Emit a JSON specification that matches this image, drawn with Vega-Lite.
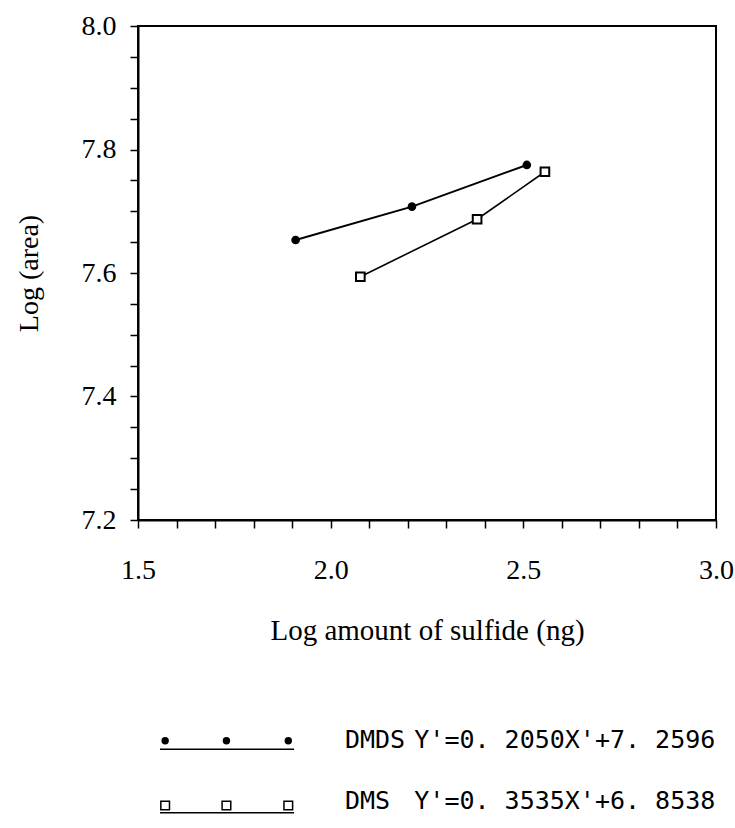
{
  "$schema": "https://vega.github.io/schema/vega-lite/v6.json",
  "background": "white",
  "padding": {"left": 14, "top": 11, "right": 5, "bottom": 0},
  "spacing": 57,
  "config": {
    "font": "Liberation Serif",
    "view": {"stroke": null},
    "axis": {
      "domainColor": "black", "domainWidth": 2, "tickColor": "black", "tickWidth": 1.5,
      "grid": false, "labelColor": "black", "titleColor": "black",
      "labelFont": "Liberation Serif", "titleFont": "Liberation Serif",
      "titleFontWeight": "normal", "labelOverlap": false, "labelFlush": false, "labelBound": false
    }
  },
  "vconcat": [
    {
      "width": 578,
      "height": 494,
      "view": {"stroke": "black", "strokeWidth": 2},
      "data": {"values": [
        {"series": "DMDS", "x": 1.909, "y": 7.6535},
        {"series": "DMDS", "x": 2.211, "y": 7.7075},
        {"series": "DMDS", "x": 2.509, "y": 7.775},
        {"series": "DMS", "x": 2.077, "y": 7.594},
        {"series": "DMS", "x": 2.380, "y": 7.687},
        {"series": "DMS", "x": 2.556, "y": 7.764}
      ]},
      "encoding": {
        "x": {"field": "x", "type": "quantitative",
          "scale": {"domain": [1.5, 3.0], "nice": false, "zero": false},
          "axis": {"title": "Log amount of sulfide (ng)", "titleFont": "Liberation Serif", "titleFontSize": 29, "titlePadding": 32,
            "labelFont": "Liberation Serif", "labelFontSize": 28, "labelPadding": 28, "tickSize": 8,
            "values": [1.5,1.6,1.7,1.8,1.9,2.0,2.1,2.2,2.3,2.4,2.5,2.6,2.7,2.8,2.9,3.0],
            "labelExpr": "abs(datum.value*2 - round(datum.value*2)) < 0.001 ? format(datum.value, '.1f') : ''"}},
        "y": {"field": "y", "type": "quantitative",
          "scale": {"domain": [7.2, 8.0], "nice": false, "zero": false},
          "axis": {"title": "Log (area)", "titleFont": "Liberation Serif", "titleFontSize": 28, "titlePadding": 38,
            "labelFont": "Liberation Serif", "labelFontSize": 28, "labelPadding": 14, "tickSize": 8,
            "values": [7.2,7.25,7.3,7.35,7.4,7.45,7.5,7.55,7.6,7.65,7.7,7.75,7.8,7.85,7.9,7.95,8.0],
            "labelExpr": "abs(datum.value*5 - round(datum.value*5)) < 0.001 ? format(datum.value, '.1f') : ''"}}
      },
      "layer": [
        {"transform": [{"filter": "datum.series == 'DMDS'"}],
         "mark": {"type": "line", "color": "black", "strokeWidth": 2}},
        {"transform": [{"filter": "datum.series == 'DMS'"}],
         "mark": {"type": "line", "color": "black", "strokeWidth": 1.6}},
        {"transform": [{"filter": "datum.series == 'DMDS'"}],
         "mark": {"type": "point", "shape": "circle", "filled": true, "color": "black", "size": 75, "opacity": 1}},
        {"transform": [{"filter": "datum.series == 'DMS'"}],
         "mark": {"type": "point", "shape": "square", "filled": true, "fill": "white", "stroke": "black", "strokeWidth": 2, "size": 75, "opacity": 1}}
      ]
    },
    {
      "width": 578,
      "height": 122,
      "view": {"stroke": null},
      "layer": [
        {
          "data": {"values": [
            {"series": "DMDS", "row": 1.16, "x0": 0.38, "x1": 2.70},
            {"series": "DMS", "row": 2.2, "x0": 0.38, "x1": 2.70}
          ]},
          "mark": {"type": "rule", "color": "black", "strokeWidth": 1.5},
          "encoding": {
            "x": {"field": "x0", "type": "quantitative", "scale": {"domain": [0, 10]}, "axis": null},
            "x2": {"field": "x1"},
            "y": {"field": "row", "type": "quantitative", "scale": {"domain": [0.4, 2.4], "reverse": true}, "axis": null}
          }
        },
        {
          "data": {"values": [
            {"series": "DMDS", "row": 1.02, "x": 0.47},
            {"series": "DMDS", "row": 1.02, "x": 1.53},
            {"series": "DMDS", "row": 1.02, "x": 2.60}
          ]},
          "mark": {"type": "point", "shape": "circle", "filled": true, "color": "black", "size": 55, "opacity": 1},
          "encoding": {
            "x": {"field": "x", "type": "quantitative", "scale": {"domain": [0, 10]}, "axis": null},
            "y": {"field": "row", "type": "quantitative", "scale": {"domain": [0.4, 2.4], "reverse": true}, "axis": null}
          }
        },
        {
          "data": {"values": [
            {"series": "DMS", "row": 2.08, "x": 0.47},
            {"series": "DMS", "row": 2.08, "x": 1.53},
            {"series": "DMS", "row": 2.08, "x": 2.60}
          ]},
          "mark": {"type": "point", "shape": "square", "filled": true, "fill": "white", "stroke": "black", "strokeWidth": 1.5, "size": 75, "opacity": 1},
          "encoding": {
            "x": {"field": "x", "type": "quantitative", "scale": {"domain": [0, 10]}, "axis": null},
            "y": {"field": "row", "type": "quantitative", "scale": {"domain": [0.4, 2.4], "reverse": true}, "axis": null}
          }
        },
        {
          "data": {"values": [
            {"row": 1, "x": 3.58, "label": "DMDS"},
            {"row": 2, "x": 3.58, "label": "DMS"}
          ]},
          "mark": {"type": "text", "align": "left", "baseline": "middle", "font": "DejaVu Sans Mono", "fontSize": 25, "color": "black"},
          "encoding": {
            "x": {"field": "x", "type": "quantitative", "scale": {"domain": [0, 10]}, "axis": null},
            "y": {"field": "row", "type": "quantitative", "scale": {"domain": [0.4, 2.4], "reverse": true}, "axis": null},
            "text": {"field": "label"}
          }
        },
        {
          "data": {"values": [
            {"row": 1, "x": 4.78, "label": "Y'=0. 2050X'+7. 2596"},
            {"row": 2, "x": 4.78, "label": "Y'=0. 3535X'+6. 8538"}
          ]},
          "mark": {"type": "text", "align": "left", "baseline": "middle", "font": "DejaVu Sans Mono", "fontSize": 25, "color": "black"},
          "encoding": {
            "x": {"field": "x", "type": "quantitative", "scale": {"domain": [0, 10]}, "axis": null},
            "y": {"field": "row", "type": "quantitative", "scale": {"domain": [0.4, 2.4], "reverse": true}, "axis": null},
            "text": {"field": "label"}
          }
        }
      ]
    }
  ]
}
